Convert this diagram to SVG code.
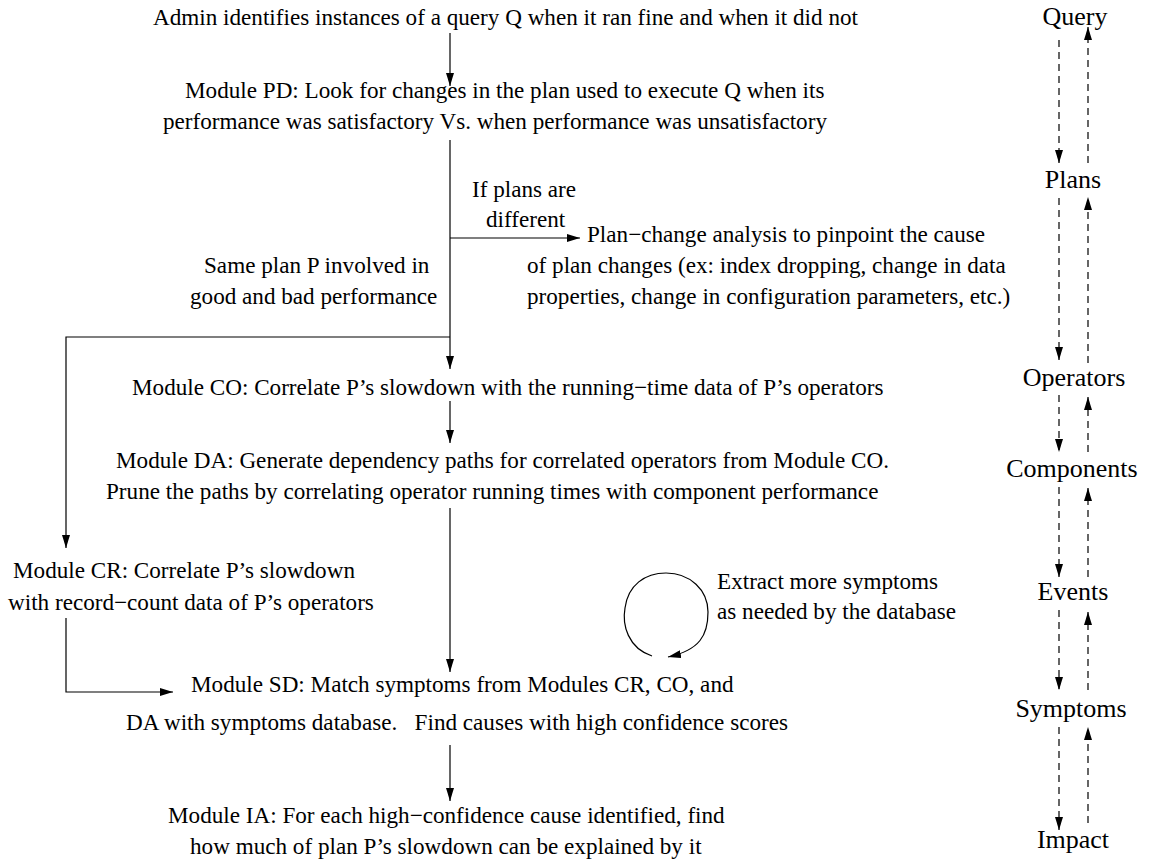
<svg xmlns="http://www.w3.org/2000/svg" width="1149" height="862" viewBox="0 0 1149 862">
  <style>
    text { font-family: "Liberation Serif", "Times New Roman", serif; font-size: 23.15px; fill: #000; }
    .level text { font-size: 26px; text-anchor: middle; }
    .conn { fill: none; stroke: #000; stroke-width: 1.2; }
    .dash { fill: none; stroke: #000; stroke-width: 1.2; stroke-dasharray: 7 5; }
  </style>
  <defs>
    <marker id="arrow" viewBox="0 0 13 8" refX="13" refY="4" markerWidth="13" markerHeight="8" markerUnits="userSpaceOnUse" orient="auto">
      <path d="M0,0 L13,4 L0,8 z" fill="#000"/>
    </marker>
  </defs>
  <rect width="1149" height="862" fill="#fff"/>

  <!-- flow connectors -->
  <g id="connectors">
    <path class="conn" d="M450,33 V86" marker-end="url(#arrow)"/>
    <path class="conn" d="M450,140 V369" marker-end="url(#arrow)"/>
    <path class="conn" d="M450,238 H580" marker-end="url(#arrow)"/>
    <path class="conn" d="M450,337 H66 V548" marker-end="url(#arrow)"/>
    <path class="conn" d="M450,401 V443" marker-end="url(#arrow)"/>
    <path class="conn" d="M450,508 V672" marker-end="url(#arrow)"/>
    <path class="conn" d="M66,618 V692 H173" marker-end="url(#arrow)"/>
    <path class="conn" d="M450,745 V801" marker-end="url(#arrow)"/>
    <path class="conn" d="M652,656 C628,648 622,625 625,608 C628,585 645,573 666,573 C690,573 708,590 708,612 C708,635 700,650 668,657" marker-end="url(#arrow)"/>
  </g>

  <!-- level chain: drill-down (left column) and roll-up (right column) -->
  <g id="level-links">
    <path class="dash" d="M1059,40 V163" marker-end="url(#arrow)"/>
    <path class="dash" d="M1088,163 V27" marker-end="url(#arrow)"/>
    <path class="dash" d="M1059,198 V360" marker-end="url(#arrow)"/>
    <path class="dash" d="M1088,363 V197" marker-end="url(#arrow)"/>
    <path class="dash" d="M1059,395 V452" marker-end="url(#arrow)"/>
    <path class="dash" d="M1088,452 V397" marker-end="url(#arrow)"/>
    <path class="dash" d="M1059,487 V577" marker-end="url(#arrow)"/>
    <path class="dash" d="M1088,577 V488" marker-end="url(#arrow)"/>
    <path class="dash" d="M1059,610 V690" marker-end="url(#arrow)"/>
    <path class="dash" d="M1088,690 V612" marker-end="url(#arrow)"/>
    <path class="dash" d="M1059,727 V830" marker-end="url(#arrow)"/>
    <path class="dash" d="M1088,823 V727" marker-end="url(#arrow)"/>
  </g>

  <g id="node-admin">
    <text x="153" y="25">Admin identifies instances of a query Q when it ran fine and when it did not</text>
  </g>
  <g id="node-pd">
    <text x="185" y="98">Module PD: Look for changes in the plan used to execute Q when its</text>
    <text x="163" y="129">performance was satisfactory Vs. when performance was unsatisfactory</text>
  </g>
  <g id="label-different">
    <text x="472" y="197">If plans are</text>
    <text x="486" y="227">different</text>
  </g>
  <g id="node-plan-change">
    <text x="587" y="242">Plan−change analysis to pinpoint the cause</text>
    <text x="527" y="273">of plan changes (ex: index dropping, change in data</text>
    <text x="527" y="304">properties, change in configuration parameters, etc.)</text>
  </g>
  <g id="label-same-plan">
    <text x="204" y="273">Same plan P involved in</text>
    <text x="190" y="304">good and bad performance</text>
  </g>
  <g id="node-co">
    <text x="132" y="395">Module CO: Correlate P’s slowdown with the running−time data of P’s operators</text>
  </g>
  <g id="node-da">
    <text x="116" y="468">Module DA: Generate dependency paths for correlated operators from Module CO.</text>
    <text x="106" y="499">Prune the paths by correlating operator running times with component performance</text>
  </g>
  <g id="node-cr">
    <text x="13" y="578">Module CR: Correlate P’s slowdown</text>
    <text x="8" y="610">with record−count data of P’s operators</text>
  </g>
  <g id="label-extract">
    <text x="717" y="589">Extract more symptoms</text>
    <text x="717" y="619">as needed by the database</text>
  </g>
  <g id="node-sd">
    <text x="191" y="692">Module SD: Match symptoms from Modules CR, CO, and</text>
    <text x="126" y="730" xml:space="preserve">DA with symptoms database.   Find causes with high confidence scores</text>
  </g>
  <g id="node-ia">
    <text x="168" y="823">Module IA: For each high−confidence cause identified, find</text>
    <text x="190" y="854">how much of plan P’s slowdown can be explained by it</text>
  </g>

  <g class="level">
    <g id="level-query"><text x="1075" y="25">Query</text></g>
    <g id="level-plans"><text x="1073" y="188">Plans</text></g>
    <g id="level-operators"><text x="1074" y="386">Operators</text></g>
    <g id="level-components"><text x="1072" y="477">Components</text></g>
    <g id="level-events"><text x="1073" y="600">Events</text></g>
    <g id="level-symptoms"><text x="1071" y="717">Symptoms</text></g>
    <g id="level-impact"><text x="1073" y="848">Impact</text></g>
  </g>
</svg>
